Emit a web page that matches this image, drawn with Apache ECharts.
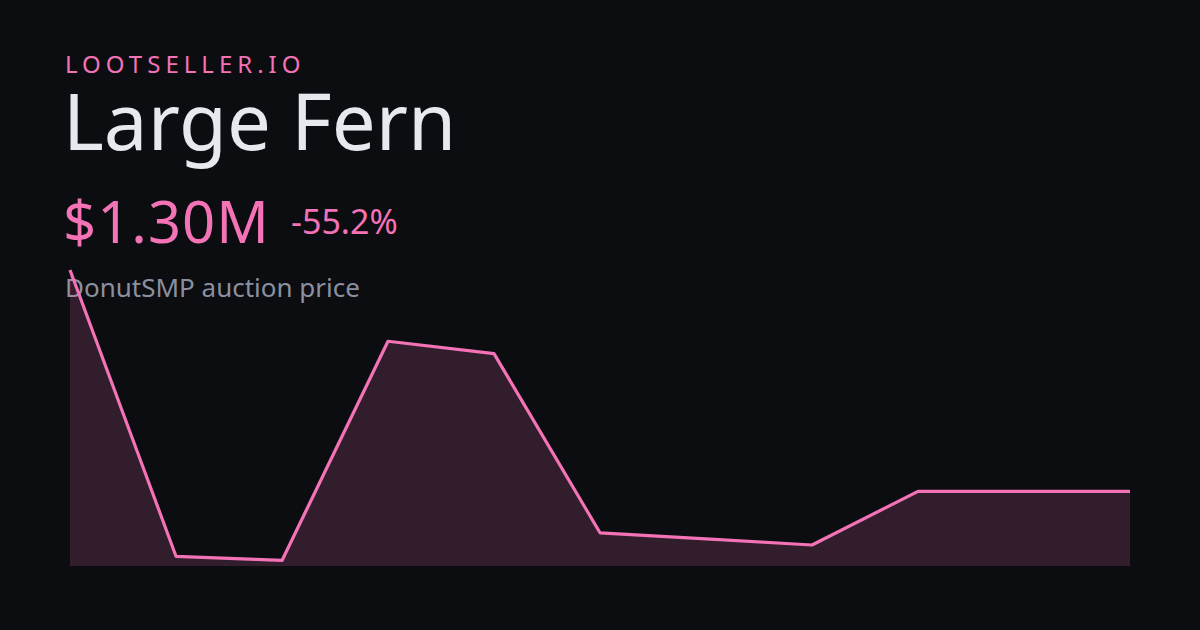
<!DOCTYPE html>
<html>
<head>
<meta charset="utf-8">
<script src="https://cdn.jsdelivr.net/npm/echarts@6/dist/echarts.min.js"></script>
<style>
  html, body { margin: 0; padding: 0; background: #0c0d10; }
  #wrap { position: relative; width: 1200px; height: 630px; overflow: hidden; font-family: "Noto Sans", sans-serif; }
  .t { position: absolute; line-height: 1; white-space: nowrap; }
  #brand { left: 65px; top: 52px; font-size: 24px; letter-spacing: 5px; color: #f472b6; }
  #name { left: 63px; top: 81px; font-size: 78px; color: #e8e9ee; }
  #price { left: 63px; top: 192px; font-size: 58px; letter-spacing: 1px; color: #f472b6; }
  #change { left: 291px; top: 204px; font-size: 34px; color: #f472b6; }
  #sub { left: 65px; top: 274px; font-size: 26px; color: #8b90a0; }
  #chart { position: absolute; left: 0; top: 0; width: 1200px; height: 630px; }
</style>
</head>
<body>
<div id="wrap">
  <div class="t" id="brand">LOOTSELLER.IO</div>
  <div class="t" id="name">Large Fern</div>
  <div class="t" id="price">$1.30M</div>
  <div class="t" id="change">-55.2%</div>
  <div class="t" id="sub">DonutSMP auction price</div>
  <div id="chart"></div>
</div>
<script>
// price history, in coins
const days = ['1', '2', '3', '4', '5', '6', '7', '8', '9', '10', '11'];
const prices = [2900000, 830000, 800000, 2385000, 2295000, 1000000, 956000, 912000, 1300000, 1300000, 1300000];
const yMin = 760000;
const yMax = 2900000;

const chart = echarts.init(document.getElementById('chart'));

chart.setOption({
    backgroundColor: 'transparent',
    animation: false,
    grid: { left: 70, right: 70, top: 270, bottom: 64 },
    xAxis: {
        type: 'category',
        data: days,
        boundaryGap: false,
        show: false
    },
    yAxis: {
        type: 'value',
        min: yMin,
        max: yMax,
        show: false
    },
    series: [
        {
            type: 'line',
            data: prices,
            symbol: 'none',
            lineStyle: { color: '#f472b6', width: 3.2, join: 'round' },
            areaStyle: { color: '#f472b6', opacity: 0.17 }
        }
    ]
});
</script>
</body>
</html>
